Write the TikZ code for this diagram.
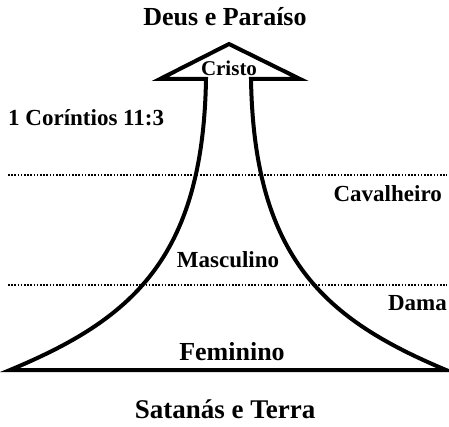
\documentclass[tikz,border=0pt]{standalone}
\usepackage{fontspec}
\setmainfont{Liberation Serif}
\begin{document}
\begin{tikzpicture}[x=1pt,y=-1pt,
  lbl/.style={font=\bfseries\fontsize{23}{25}\selectfont, inner sep=0pt, anchor=base},
  ttl/.style={font=\bfseries\fontsize{26}{28}\selectfont, inner sep=0pt, anchor=base},
  arrowline/.style={line width=4pt, line join=miter},
  dotline/.style={line width=1.6pt, dash pattern=on 1.6pt off 1.6pt}]
\useasboundingbox (0,0) rectangle (449,427);
% arrow outline
\draw[arrowline] (10,370) .. controls (130,320) and (203,260) .. (206,79)
  -- (160,79) -- (229,44) -- (300,79) -- (251,79)
  .. controls (254,260) and (327,320) .. (446,370) -- cycle;
% dotted lines
\coordinate (d1l) at (8,175); \coordinate (d1r) at (447,175);
\coordinate (d2l) at (8,285); \coordinate (d2r) at (447,285);
\draw[dotline] (d1l) -- (d1r);
\draw[dotline] (d2l) -- (d2r);
% texts
\node[ttl] (top) at (225,26) {Deus e Paraíso};
\node[ttl, font=\bfseries\fontsize{27}{29}\selectfont] (bot) at (225,418) {Satanás e Terra};
\node[lbl, font=\bfseries\fontsize{21}{23}\selectfont] (cristo) at (229,76) {Cristo};
\node[lbl, anchor=base west] (cor) at (8,126) {1 Coríntios 11:3};
\node[lbl, anchor=base east] (cav) at (442,202) {Cavalheiro};
\node[lbl] (masc) at (228,268) {Masculino};
\node[lbl, anchor=base east] (dama) at (447,310) {Dama};
\node[lbl, font=\bfseries\fontsize{26}{28}\selectfont] (fem) at (232,360) {Feminino};
\end{tikzpicture}
\end{document}
